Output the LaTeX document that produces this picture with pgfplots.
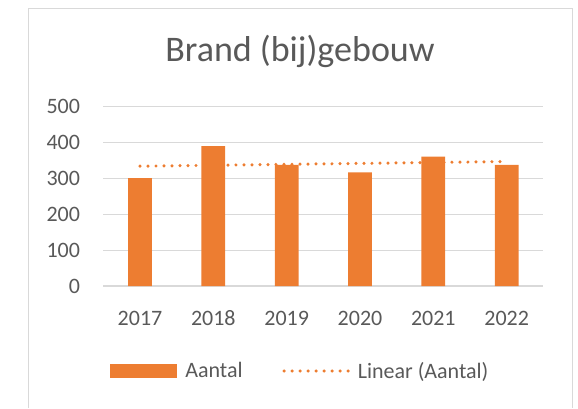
\documentclass[border=0pt]{standalone}
\usepackage{pgfplots}
\pgfplotsset{compat=1.18}
\usepackage{fontspec}
\setmainfont{Carlito}
\definecolor{xlorange}{HTML}{ED7D31}
\definecolor{txtgray}{HTML}{595959}
\definecolor{gridgray}{HTML}{D9D9D9}
\begin{document}
\begin{tikzpicture}[x=0.75pt,y=0.75pt]
\useasboundingbox (0,0) rectangle (578,408);
\draw[gridgray, line width=0.9pt] (28.5,0) -- (28.5,399.5) -- (572.3,399.5) -- (572.3,0);
\node[txtgray, font=\fontsize{27}{32}\selectfont, anchor=base, inner sep=0pt] at (300,346.3) {Brand (bij)gebouw};
\begin{axis}[
  at={(77.5pt,91.5pt)}, anchor=south west,
  width=330pt, height=134.5pt, scale only axis,
  xmin=-0.5, xmax=5.5, ymin=0, ymax=500,
  xtick={0,1,2,3,4,5}, xticklabels={2017,2018,2019,2020,2021,2022},
  ytick={0,100,200,300,400,500},
  ymajorgrids, grid style={gridgray, line width=0.9pt},
  axis line style={draw=none},
  major tick length=0pt,
  tick label style={txtgray, font=\fontsize{16.5}{20}\selectfont},
  /pgf/number format/assume math mode=true,
  yticklabel style={xshift=-14pt},
  xticklabel style={yshift=-15pt, text height=11pt, text depth=0pt},
  legend style={at={(0.0152,-0.474)}, anchor=west, draw=none, fill=none, inner sep=0pt, outer sep=0pt,
    font=\fontsize{16.5}{20}\selectfont, text=txtgray, legend columns=2,
    /tikz/every even column/.append style={column sep=27.75pt}},
]
\addplot[ybar, bar width=17.8pt, fill=xlorange, draw=none, bar shift=0pt,
  legend image code/.code={\fill[xlorange] (0pt,-5pt) rectangle (50pt,5pt); \path (54.5pt,0pt);}]
  coordinates {(0,301) (1,390) (2,338) (3,317) (4,361) (5,338)};
\addlegendentry{Aantal}
\addplot[xlorange, line width=2.6pt, line cap=round, dash pattern=on 0pt off 6pt, no marks,
  legend image code/.code={\draw (0pt,0pt) -- (50pt,0pt); \path (52pt,0pt);}]
  coordinates {(0,334) (5,347)};
\addlegendentry{Linear (Aantal)}
\end{axis}
\end{tikzpicture}
\end{document}
